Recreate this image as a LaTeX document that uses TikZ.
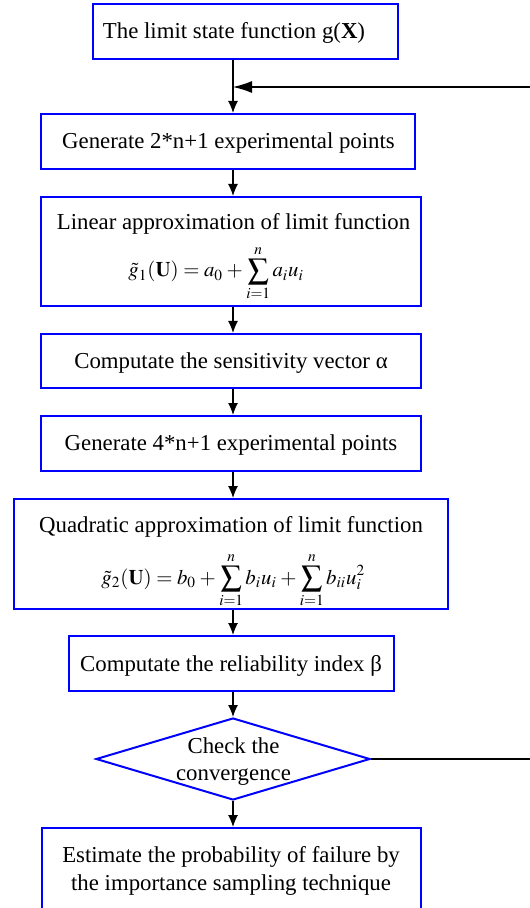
\documentclass[tikz,border=0pt]{standalone}
\usepackage{mathptmx}
\usepackage{fontspec}
\setmainfont{Liberation Serif}
\usetikzlibrary{arrows.meta,shapes.geometric}
\newcommand{\tightmath}{\medmuskip=3mu\relax\thickmuskip=4mu\relax}
\begin{document}
\begin{tikzpicture}[x=0.5pt,y=-0.5pt,
  box/.style={draw=blue, line width=1pt, inner sep=0pt, fill=white},
  txt/.style={font=\fontsize{11.4}{14}\selectfont, inner sep=0pt, anchor=base},
  frm/.style={font=\fontsize{10.4}{13}\selectfont, inner sep=0pt, anchor=base west},
  arr/.style={draw=black, line width=0.6pt, -{Latex[length=6pt,width=5pt]}},
  fb/.style={draw=black, line width=0.6pt, -{Latex[length=9.5pt,width=6pt]}}]
\useasboundingbox (0,0) rectangle (529,908);
% boxes
\node[box, minimum width=152.5pt, minimum height=27.5pt] (b1) at (245.5,31.5) {};
\node[box, minimum width=187pt, minimum height=27.5pt] (b2) at (228,141.5) {};
\node[box, minimum width=190pt, minimum height=54.5pt] (b3) at (231,251.5) {};
\node[box, minimum width=190pt, minimum height=27pt] (b4) at (231,361) {};
\node[box, minimum width=190pt, minimum height=27.5pt] (b5) at (231,443.5) {};
\node[box, minimum width=217pt, minimum height=55pt] (b6) at (231,554) {};
\node[box, minimum width=162.5pt, minimum height=27.5pt] (b7) at (231.5,663.5) {};
\node[box, diamond, minimum width=137pt, minimum height=41pt] (d) at (233,759) {};
\node[box, minimum width=189.5pt, minimum height=43pt] (b8) at (231.5,871) {};
% texts
\node[txt] (t1) at (234,39) {The limit state function g(\textbf{X})};
\node[txt] (t2) at (228.5,149) {Generate 2*n+1 experimental points};
\node[txt] (t3a) at (233.5,230) {Linear approximation of limit function};
\node[frm] (t3b) at (128,277) {$\tightmath\displaystyle \tilde{g}_1(\mathbf{U}) = a_0 + \sum_{i=1}^{n} a_i u_i$};
\node[txt] (t4) at (231,369) {Computate the sensitivity vector α};
\node[txt] (t5) at (231,450) {Generate 4*n+1 experimental points};
\node[txt] (t6a) at (231,532) {Quadratic approximation of limit function};
\node[frm] (t6b) at (101,584) {$\tightmath\displaystyle \tilde{g}_2(\mathbf{U}) = b_0 + \sum_{i=1}^{n} b_i u_i + \sum_{i=1}^{n} b_{ii} u_i^2$};
\node[txt] (t7) at (231,671) {Computate the reliability index β};
\node[txt] (tda) at (233.5,753) {Check the};
\node[txt] (tdb) at (233.5,780) {convergence};
\node[txt] (t8a) at (231,862) {Estimate the probability of failure by};
\node[txt] (t8b) at (231,890) {the importance sampling technique};
% connectors
\coordinate (ax) at (233,0);
\coordinate (fbin) at (233,87);
\coordinate (fbr) at (534,87);
\draw[arr] (b1.south -| ax) -- (b2.north -| ax);
\draw[arr] (b2.south -| ax) -- (b3.north -| ax);
\draw[arr] (b3.south -| ax) -- (b4.north -| ax);
\draw[arr] (b4.south -| ax) -- (b5.north -| ax);
\draw[arr] (b5.south -| ax) -- (b6.north -| ax);
\draw[arr] (b6.south -| ax) -- (b7.north -| ax);
\draw[arr] (b7.south -| ax) -- (d.north);
\draw[arr] (d.south) -- (b8.north -| ax);
\draw[fb] (d.east) -| (fbr) -- (fbin);
\end{tikzpicture}
\end{document}
